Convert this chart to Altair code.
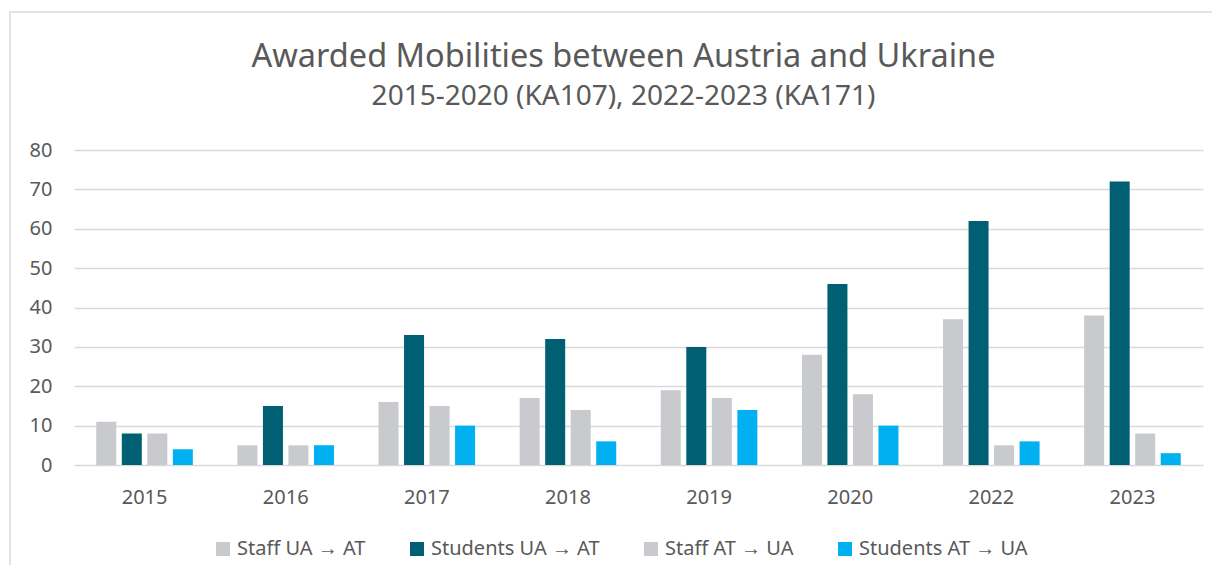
import altair as alt
import pandas as pd

years = ["2015", "2016", "2017", "2018", "2019", "2020", "2022", "2023"]
series = ["Staff UA → AT", "Students UA → AT", "Staff AT → UA", "Students AT → UA"]
staff_ua_at = [11, 5, 16, 17, 19, 28, 37, 38]
students_ua_at = [8, 15, 33, 32, 30, 46, 62, 72]
staff_at_ua = [8, 5, 15, 14, 17, 18, 5, 8]
students_at_ua = [4, 5, 10, 6, 14, 10, 6, 3]
colors = ["#C9CACD", "#005F73", "#C9CACD", "#00B0F0"]

rows = []
for vals, s in zip([staff_ua_at, students_ua_at, staff_at_ua, students_at_ua], series):
    for y, v in zip(years, vals):
        rows.append({"Year": y, "Series": s, "Value": v})
df = pd.DataFrame(rows)

FONT = "Noto Sans"
TXT = "#595959"

bars = alt.Chart(df).mark_bar().encode(
    x=alt.X("Year:N", sort=years,
            scale=alt.Scale(paddingInner=0, paddingOuter=0),
            axis=alt.Axis(title=None, labelAngle=0, domain=False, ticks=False,
                          labelPadding=22, labelFontSize=20, labelColor=TXT, labelFont=FONT)),
    xOffset=alt.XOffset("Series:N", sort=series,
                        scale=alt.Scale(paddingInner=0.216, paddingOuter=0.873)),
    y=alt.Y("Value:Q", scale=alt.Scale(domain=[0, 80]),
            axis=alt.Axis(title=None, values=list(range(0, 81, 10)), domain=False, ticks=False,
                          labelPadding=22, labelFontSize=20, labelColor=TXT, labelFont=FONT,
                          gridColor="#D9D9D9", gridWidth=1.5)),
    color=alt.Color("Series:N", sort=series,
                    scale=alt.Scale(domain=series, range=colors),
                    legend=alt.Legend(title=None, orient="none", legendX=139, legendY=389,
                                      direction="horizontal", columns=4, columnPadding=41,
                                      symbolType="square", symbolSize=196, symbolStrokeWidth=0,
                                      labelFontSize=20, labelColor=TXT, labelFont=FONT,
                                      labelOffset=4, labelLimit=400)),
)

frame = alt.Chart(pd.DataFrame({"k": [0]})).mark_rect(
    fill=None, stroke="#D9D9D9", strokeWidth=1.5
).encode(x=alt.value(-64), x2=alt.value(1300), y=alt.value(-138), y2=alt.value(600))

chart = alt.layer(frame, bars).properties(
    width=1129, height=315,
    autosize=alt.AutoSizeParams(type="none"),
    padding={"left": 66, "top": 142, "right": 9, "bottom": 100},
    title=alt.TitleParams(
        text="Awarded Mobilities between Austria and Ukraine",
        subtitle="2015-2020 (KA107), 2022-2023 (KA171)",
        anchor="middle", frame="group", dx=-15, offset=-100,
        font=FONT, fontSize=32.5, fontWeight="normal", color=TXT,
        subtitleFont=FONT, subtitleFontSize=28, subtitleColor=TXT, subtitlePadding=10,
    ),
).configure_view(stroke=None)

chart.save("out.html", embed_options={"renderer": "svg", "actions": False})
